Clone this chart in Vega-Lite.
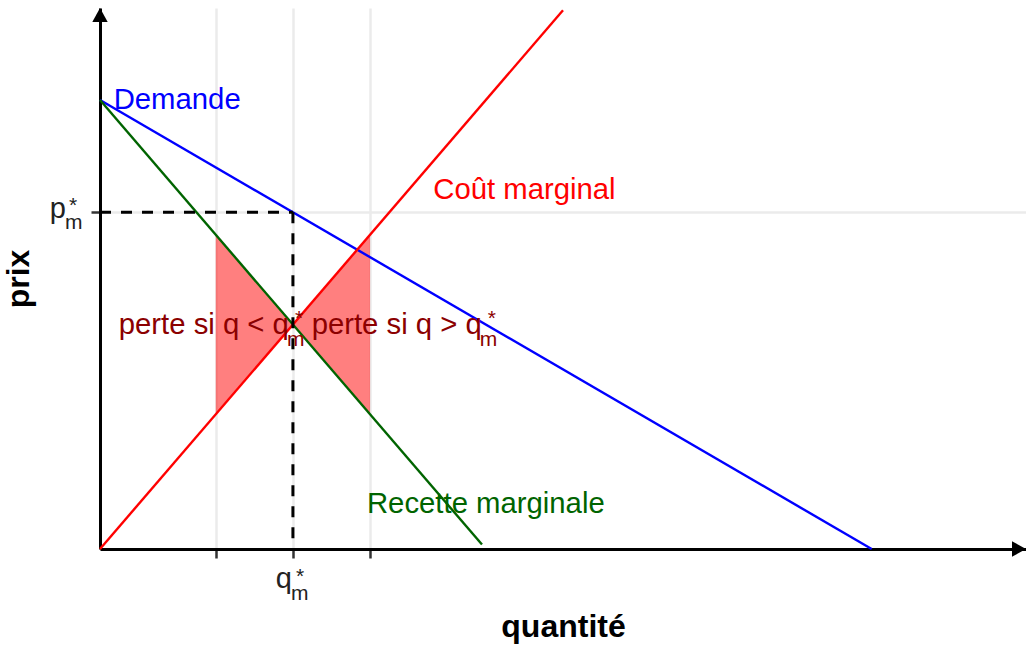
{
  "$schema": "https://vega.github.io/schema/vega-lite/v6.json",
  "width": 926,
  "height": 541,
  "autosize": {"type": "none"},
  "padding": {"left": 100, "top": 8, "right": 0, "bottom": 97},
  "background": "white",
  "config": {
    "view": {"stroke": null},
    "font": "Liberation Sans",
    "text": {"font": "Liberation Sans"}
  },
  "datasets": {
    "curves": [
      {"curve": "Demande", "q": 0, "p": 10},
      {"curve": "Demande", "q": 10, "p": 0},
      {"curve": "Recette marginale", "q": 0, "p": 10},
      {"curve": "Recette marginale", "q": 4.95, "p": 0.1},
      {"curve": "Coût marginal", "q": 0, "p": 0},
      {"curve": "Coût marginal", "q": 6, "p": 12}
    ],
    "shade": [
      {"q": 1.5, "cm": 3, "rm": 7},
      {"q": 2.5, "cm": 5, "rm": 5},
      {"q": 3.5, "cm": 7, "rm": 3}
    ],
    "dashes": [
      {"q": 0, "p": 7.5, "q2": 2.5, "p2": 7.5},
      {"q": 2.5, "p": 7.5, "q2": 2.5, "p2": 0}
    ],
    "labels": [
      {"curve": "Demande", "q": 1, "p": 10},
      {"curve": "Coût marginal", "q": 5.5, "p": 8},
      {"curve": "Recette marginale", "q": 5, "p": 1}
    ],
    "perte": [
      {"t": "perte si q < q", "q": 2.5, "p": 5},
      {"t": "perte si q > q", "q": 5, "p": 5}
    ],
    "xlab": [{"q": 2.5, "p": 0}],
    "ylab": [{"q": 0, "p": 7.5}],
    "xarrow": [{"q": 12, "p": 0}],
    "yarrow": [{"q": 0, "p": 12.05}]
  },
  "layer": [
    {
      "data": {"name": "shade"},
      "mark": {"type": "area", "color": "#FF0000", "opacity": 0.5},
      "encoding": {
        "x": {
          "field": "q", "type": "quantitative",
          "scale": {"domain": [0, 12], "nice": false, "zero": false},
          "axis": {
            "title": "quantité", "values": [1.5, 2.5, 3.5], "labels": false,
            "grid": true, "gridColor": "#EBEBEB", "gridWidth": 2.5,
            "domainColor": "#000000", "domainWidth": 3,
            "tickColor": "#333333", "tickWidth": 2.5, "tickSize": 9,
            "titleFontSize": 32, "titleFontWeight": "bold", "titleColor": "#000000",
            "titleFont": "Liberation Sans", "titlePadding": 52
          }
        },
        "y": {
          "field": "cm", "type": "quantitative",
          "scale": {"domain": [0, 12.05], "nice": false, "zero": false},
          "axis": {
            "title": "prix", "values": [7.5], "labels": false,
            "grid": true, "gridColor": "#EBEBEB", "gridWidth": 2.5,
            "domainColor": "#000000", "domainWidth": 3,
            "tickColor": "#333333", "tickWidth": 2.5, "tickSize": 9,
            "titleFontSize": 32, "titleFontWeight": "bold", "titleColor": "#000000",
            "titleFont": "Liberation Sans", "titlePadding": 54
          }
        },
        "y2": {"field": "rm"}
      }
    },
    {
      "data": {"name": "curves"},
      "mark": {"type": "line", "strokeWidth": 2.4},
      "encoding": {
        "x": {"field": "q", "type": "quantitative", "scale": {"domain": [0, 12], "nice": false, "zero": false}},
        "y": {"field": "p", "type": "quantitative", "scale": {"domain": [0, 12.05], "nice": false, "zero": false}},
        "color": {
          "field": "curve", "type": "nominal",
          "scale": {"domain": ["Demande", "Recette marginale", "Coût marginal"], "range": ["#0000FF", "#006400", "#FF0000"]},
          "legend": null
        }
      }
    },
    {
      "data": {"name": "dashes"},
      "mark": {"type": "rule", "color": "#000000", "strokeWidth": 3, "strokeDash": [11, 10]},
      "encoding": {
        "x": {"field": "q", "type": "quantitative", "scale": {"domain": [0, 12], "nice": false, "zero": false}},
        "y": {"field": "p", "type": "quantitative", "scale": {"domain": [0, 12.05], "nice": false, "zero": false}},
        "x2": {"field": "q2"},
        "y2": {"field": "p2"}
      }
    },
    {
      "data": {"name": "labels"},
      "mark": {"type": "text", "fontSize": 29.3, "align": "center", "baseline": "middle"},
      "encoding": {
        "x": {"field": "q", "type": "quantitative", "scale": {"domain": [0, 12], "nice": false, "zero": false}},
        "y": {"field": "p", "type": "quantitative", "scale": {"domain": [0, 12.05], "nice": false, "zero": false}},
        "text": {"field": "curve"},
        "color": {"field": "curve", "type": "nominal", "legend": null}
      }
    },
    {
      "data": {"name": "perte"},
      "mark": {"type": "text", "fontSize": 29.3, "align": "right", "baseline": "alphabetic", "dx": -4, "dy": 9, "color": "#8B0000"},
      "encoding": {
        "x": {"field": "q", "type": "quantitative", "scale": {"domain": [0, 12], "nice": false, "zero": false}},
        "y": {"field": "p", "type": "quantitative", "scale": {"domain": [0, 12.05], "nice": false, "zero": false}},
        "text": {"field": "t"}
      }
    },
    {
      "data": {"name": "perte"},
      "mark": {"type": "text", "text": "m", "fontSize": 21, "align": "left", "baseline": "alphabetic", "dx": -6, "dy": 21, "color": "#8B0000"},
      "encoding": {
        "x": {"field": "q", "type": "quantitative", "scale": {"domain": [0, 12], "nice": false, "zero": false}},
        "y": {"field": "p", "type": "quantitative", "scale": {"domain": [0, 12.05], "nice": false, "zero": false}}
      }
    },
    {
      "data": {"name": "perte"},
      "mark": {"type": "text", "text": "*", "fontSize": 21, "align": "left", "baseline": "alphabetic", "dx": 2, "dy": 0, "color": "#8B0000"},
      "encoding": {
        "x": {"field": "q", "type": "quantitative", "scale": {"domain": [0, 12], "nice": false, "zero": false}},
        "y": {"field": "p", "type": "quantitative", "scale": {"domain": [0, 12.05], "nice": false, "zero": false}}
      }
    },
    {
      "data": {"name": "xlab"},
      "mark": {"type": "text", "text": "q", "fontSize": 29, "align": "right", "baseline": "alphabetic", "dx": -1, "dy": 39, "color": "#222222"},
      "encoding": {
        "x": {"field": "q", "type": "quantitative", "scale": {"domain": [0, 12], "nice": false, "zero": false}},
        "y": {"field": "p", "type": "quantitative", "scale": {"domain": [0, 12.05], "nice": false, "zero": false}}
      }
    },
    {
      "data": {"name": "xlab"},
      "mark": {"type": "text", "text": "m", "fontSize": 21, "align": "left", "baseline": "alphabetic", "dx": -2, "dy": 51, "color": "#222222"},
      "encoding": {
        "x": {"field": "q", "type": "quantitative", "scale": {"domain": [0, 12], "nice": false, "zero": false}},
        "y": {"field": "p", "type": "quantitative", "scale": {"domain": [0, 12.05], "nice": false, "zero": false}}
      }
    },
    {
      "data": {"name": "xlab"},
      "mark": {"type": "text", "text": "*", "fontSize": 21, "align": "left", "baseline": "alphabetic", "dx": 3, "dy": 34, "color": "#222222"},
      "encoding": {
        "x": {"field": "q", "type": "quantitative", "scale": {"domain": [0, 12], "nice": false, "zero": false}},
        "y": {"field": "p", "type": "quantitative", "scale": {"domain": [0, 12.05], "nice": false, "zero": false}}
      }
    },
    {
      "data": {"name": "ylab"},
      "mark": {"type": "text", "text": "p", "fontSize": 29, "align": "right", "baseline": "alphabetic", "dx": -34, "dy": 6, "color": "#222222"},
      "encoding": {
        "x": {"field": "q", "type": "quantitative", "scale": {"domain": [0, 12], "nice": false, "zero": false}},
        "y": {"field": "p", "type": "quantitative", "scale": {"domain": [0, 12.05], "nice": false, "zero": false}}
      }
    },
    {
      "data": {"name": "ylab"},
      "mark": {"type": "text", "text": "m", "fontSize": 21, "align": "left", "baseline": "alphabetic", "dx": -35, "dy": 17, "color": "#222222"},
      "encoding": {
        "x": {"field": "q", "type": "quantitative", "scale": {"domain": [0, 12], "nice": false, "zero": false}},
        "y": {"field": "p", "type": "quantitative", "scale": {"domain": [0, 12.05], "nice": false, "zero": false}}
      }
    },
    {
      "data": {"name": "ylab"},
      "mark": {"type": "text", "text": "*", "fontSize": 21, "align": "left", "baseline": "alphabetic", "dx": -31, "dy": 0, "color": "#222222"},
      "encoding": {
        "x": {"field": "q", "type": "quantitative", "scale": {"domain": [0, 12], "nice": false, "zero": false}},
        "y": {"field": "p", "type": "quantitative", "scale": {"domain": [0, 12.05], "nice": false, "zero": false}}
      }
    },
    {
      "data": {"name": "xarrow"},
      "mark": {"type": "point", "shape": "M0,0L-1,-0.55L-1,0.55Z", "size": 784, "filled": true, "color": "#000000", "opacity": 1, "strokeWidth": 0},
      "encoding": {
        "x": {"field": "q", "type": "quantitative", "scale": {"domain": [0, 12], "nice": false, "zero": false}},
        "y": {"field": "p", "type": "quantitative", "scale": {"domain": [0, 12.05], "nice": false, "zero": false}}
      }
    },
    {
      "data": {"name": "yarrow"},
      "mark": {"type": "point", "shape": "M0,0L-0.55,1L0.55,1Z", "size": 784, "filled": true, "color": "#000000", "opacity": 1, "strokeWidth": 0},
      "encoding": {
        "x": {"field": "q", "type": "quantitative", "scale": {"domain": [0, 12], "nice": false, "zero": false}},
        "y": {"field": "p", "type": "quantitative", "scale": {"domain": [0, 12.05], "nice": false, "zero": false}}
      }
    }
  ]
}
